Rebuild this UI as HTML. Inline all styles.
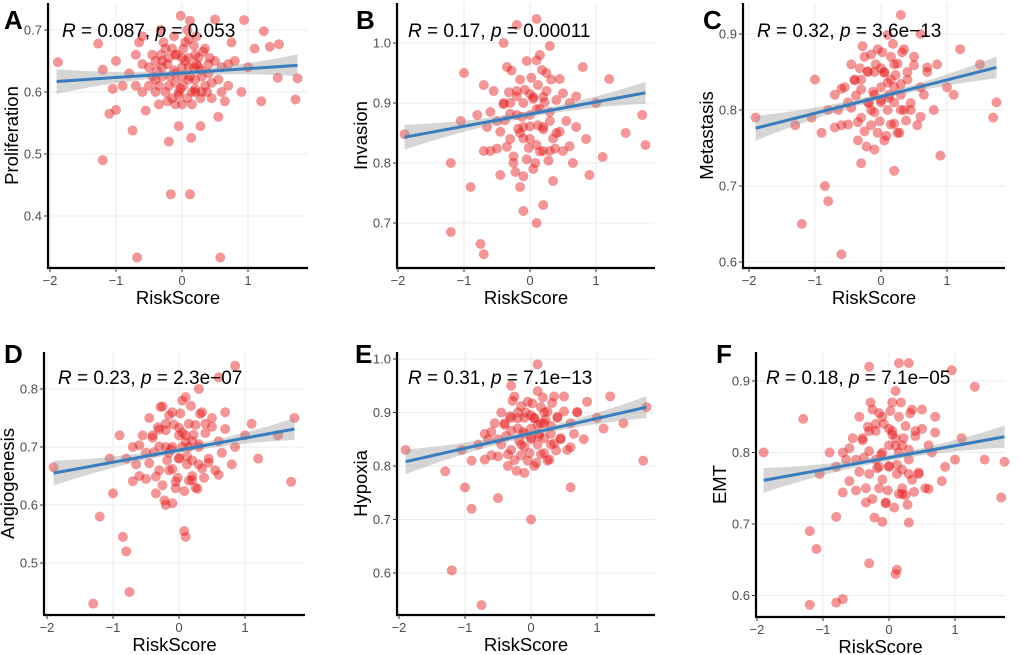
<!DOCTYPE html>
<html><head><meta charset="utf-8"><style>
body{margin:0;background:#fff;}
svg{display:block;font-family:"Liberation Sans",Arial,sans-serif;}
</style></head><body>
<svg id="chart" width="1020" height="655" viewBox="0 0 1020 655"></svg>
<script>
// ---- data ----
const panelLetters=["A","B","C","D","E","F"];
const yTitles=["Proliferation","Invasion","Metastasis","Angiogenesis","Hypoxia","EMT"];
const rValues=["0.087","0.17","0.32","0.23","0.31","0.18"];
const pValues=["0.053","0.00011","3.6e\u221213","2.3e\u221207","7.1e\u221213","7.1e\u221205"];
const xTicks=[-2,-1,0,1];
const xTickLabels=["\u22122","\u22121","0","1"];
const yTicksA=[0.4,0.5,0.6,0.7];
const yTicksB=[0.7,0.8,0.9,1.0];
const yTicksC=[0.6,0.7,0.8,0.9];
const yTicksD=[0.5,0.6,0.7,0.8];
const yTicksE=[0.6,0.7,0.8,0.9,1.0];
const yTicksF=[0.6,0.7,0.8,0.9];
const fitA=[[-1.9,0.617],[1.75,0.643]];
const fitB=[[-1.9,0.843],[1.75,0.917]];
const fitC=[[-1.9,0.776],[1.75,0.856]];
const fitD=[[-1.9,0.655],[1.75,0.731]];
const fitE=[[-1.9,0.808],[1.75,0.91]];
const fitF=[[-1.9,0.761],[1.75,0.822]];
const ptsA=[[-1.88,.648],[-1.2,.49],[-0.17,.435],[0.12,.435],[-0.68,.333],[0.58,.333],[1.72,.588],[1.75,.622],[0.94,.716],[1.24,.698],[-1.27,.678],[-1.2,.636],[-1.1,.565],[-1.0,.571],[-0.75,.538],[-0.2,.52],[0.14,.526],[-0.05,.545],[0.28,.545],[0.55,.56],[1.2,.585],[1.45,.623],[1.47,.677],[1.33,.673],[0.75,.68],[0.5,.717],[0.12,.715],[-0.02,.723],[-0.5,.64],[-0.4,.62],[-0.3,.65],[-0.2,.61],[-0.1,.63],[0,.64],[0.1,.62],[0.2,.66],[0.3,.6],[0.4,.63],[-0.6,.6],[-0.7,.66],[0.6,.64],[0.7,.61],[-0.25,.67],[0.05,.68],[-0.15,.59],[0.15,.58],[0.25,.64],[-0.35,.58],[-0.05,.6],[0.35,.67],[-0.45,.66],[0.45,.59],[-0.8,.63],[0.8,.65],[-0.9,.61],[0.9,.6],[-0.55,.57],[0.55,.62],[0.0,.58],[-0.1,.66],[0.1,.655],[0.2,.605],[-0.3,.625],[0.3,.625],[-0.65,.68],[0.65,.585],[1.0,.64],[-1.0,.65],[0.02,.61],[-0.22,.645],[0.18,.64],[-0.4,.6],[0.42,.655],[1.1,.67],[-1.05,.605],[-0.12,.69],[0.08,.7],[-0.32,.7],[0.22,.69],[-0.6,.69]];
const ptsB=[[-1.9,.848],[-1.2,.685],[-0.75,.665],[-0.7,.648],[0.1,.7],[-0.1,.72],[0.2,.73],[0.3,.995],[0.1,1.04],[-0.2,1.03],[-0.4,1.0],[1.7,.88],[1.75,.83],[1.45,.85],[1.2,.94],[-1.0,.95],[-1.2,.8],[-0.9,.76],[0.8,.96],[0.9,.78],[-0.5,.87],[-0.4,.9],[-0.3,.84],[-0.2,.92],[-0.1,.86],[0,.88],[0.1,.83],[0.2,.91],[0.3,.87],[0.4,.85],[-0.6,.82],[0.6,.9],[-0.7,.93],[0.7,.86],[-0.25,.8],[0.25,.95],[-0.05,.97],[0.05,.79],[0.15,.89],[-0.15,.85],[0.45,.94],[-0.45,.78],[0.5,.82],[-0.8,.88],[1.0,.9],[-0.35,.96],[0.35,.77],[0,.84],[-0.1,.9],[0.12,.93],[-0.55,.92],[0.55,.87],[0.85,.84],[-1.05,.87],[1.1,.81],[-0.2,.88],[0.2,.86],[-0.3,.9],[0.3,.82],[0.05,.91],[-0.65,.86],[0.65,.8],[-0.15,.76],[0.15,.98]];
const ptsC=[[-1.9,.79],[-1.2,.65],[-0.8,.68],[-0.6,.61],[-0.85,.7],[0.3,.925],[1.7,.79],[1.75,.81],[1.5,.86],[1.2,.88],[-1.0,.84],[-1.3,.78],[0.9,.74],[-0.3,.73],[0.2,.72],[0.6,.9],[-0.5,.81],[-0.4,.84],[-0.3,.79],[-0.2,.85],[-0.1,.82],[0,.83],[0.1,.8],[0.2,.86],[0.3,.82],[0.4,.84],[-0.6,.78],[0.6,.83],[-0.7,.82],[0.7,.85],[-0.25,.87],[0.25,.77],[-0.05,.88],[0.05,.76],[0.15,.84],[-0.15,.8],[0.45,.8],[-0.45,.86],[0.5,.87],[-0.8,.8],[1.0,.83],[-0.35,.76],[0.35,.88],[0,.81],[-0.1,.85],[0.12,.82],[-0.55,.83],[0.55,.78],[0.85,.86],[-1.05,.79],[1.1,.82],[0.8,.8],[-0.9,.77],[-0.2,.81],[0.2,.83],[-0.3,.84],[0.3,.8],[0.05,.85],[-0.65,.8],[0.65,.82],[-0.15,.78],[0.15,.87]];
const ptsD=[[-1.9,.665],[-1.3,.43],[-0.75,.45],[-0.8,.52],[-0.85,.545],[0.1,.545],[0.08,.555],[0.85,.84],[0.6,.82],[1.7,.64],[1.75,.75],[1.5,.72],[-1.2,.58],[-1.0,.62],[1.2,.68],[0.3,.8],[-0.2,.6],[-0.5,.69],[-0.4,.72],[-0.3,.66],[-0.2,.74],[-0.1,.7],[0,.68],[0.1,.72],[0.2,.65],[0.3,.7],[0.4,.74],[-0.6,.65],[0.6,.71],[-0.7,.7],[0.7,.76],[-0.25,.77],[0.25,.63],[-0.05,.64],[0.05,.78],[0.15,.7],[-0.15,.69],[0.45,.68],[-0.45,.75],[0.5,.75],[-0.8,.68],[1.0,.72],[-0.35,.62],[0.35,.76],[0,.72],[-0.1,.76],[0.12,.67],[-0.55,.72],[0.55,.66],[0.85,.7],[-1.05,.68],[1.1,.74],[0.8,.67],[-0.9,.72],[-0.2,.7],[0.2,.71],[-0.3,.73],[0.3,.67],[0.05,.7],[-0.65,.67],[0.65,.69],[-0.15,.66],[0.15,.74]];
const ptsE=[[-1.9,.83],[-1.2,.605],[-0.75,.54],[-0.9,.72],[0,.7],[0.1,.99],[-0.3,.95],[1.75,.91],[1.7,.81],[1.4,.88],[1.2,.93],[-1.3,.79],[-1.0,.76],[0.6,.76],[-0.5,.74],[-0.5,.85],[-0.4,.88],[-0.3,.83],[-0.2,.9],[-0.1,.86],[0,.87],[0.1,.84],[0.2,.9],[0.3,.86],[0.4,.89],[-0.6,.82],[0.6,.88],[-0.7,.86],[0.7,.9],[-0.25,.93],[0.25,.81],[-0.05,.92],[0.05,.8],[0.15,.88],[-0.15,.84],[0.45,.85],[-0.45,.9],[0.5,.93],[-0.8,.84],[1.0,.89],[-0.35,.8],[0.35,.93],[0,.85],[-0.1,.89],[0.12,.86],[-0.55,.88],[0.55,.83],[0.85,.92],[-1.05,.83],[1.1,.87],[0.8,.85],[-0.9,.81],[-0.2,.87],[0.2,.88],[-0.3,.89],[0.3,.84],[0.05,.89],[-0.65,.85],[0.65,.86],[-0.15,.82],[0.15,.91]];
const ptsF=[[-1.9,.8],[-1.2,.587],[-0.8,.59],[-0.7,.595],[-0.3,.645],[0.1,.63],[0.12,.636],[-1.2,.69],[-1.1,.665],[-0.3,.92],[0.3,.925],[0.15,.925],[0.95,.915],[1.3,.892],[1.7,.737],[1.75,.787],[1.45,.79],[-1.3,.847],[0.3,.702],[-0.8,.71],[-0.5,.79],[-0.4,.82],[-0.3,.77],[-0.2,.84],[-0.1,.8],[0,.78],[0.1,.82],[0.2,.75],[0.3,.79],[0.4,.83],[-0.6,.76],[0.6,.81],[-0.7,.8],[0.7,.85],[-0.25,.86],[0.25,.74],[-0.05,.73],[0.05,.87],[0.15,.8],[-0.15,.78],[0.45,.77],[-0.45,.85],[0.5,.86],[-0.8,.78],[1.0,.79],[-0.35,.73],[0.35,.86],[0,.81],[-0.1,.85],[0.12,.77],[-0.55,.82],[0.55,.75],[0.85,.78],[-1.05,.77],[1.1,.82],[0.8,.76],[-0.9,.8],[-0.2,.79],[0.2,.81],[-0.3,.83],[0.3,.77],[0.05,.83],[-0.65,.79],[0.65,.8],[-0.15,.75],[0.15,.85]];
// dense central cluster (x shared, y per panel)
const coreX=[-0.3,-0.2,-0.1,0,0.1,0.2,0.3,-0.35,-0.15,0.05,0.15,0.25,-0.05,-0.25,0.35,-0.4,0.4,-0.12,0.08,0.18,-0.28,0.28,-0.08,0.12,-0.18,0.22,-0.45,0.45,-0.5,0.5,0.02,-0.02,-0.32,0.32,-0.22,0.38,-0.6,0.6,-0.7,0.7,0.1,-0.1,0,-0.38,0.2];
const coreYA=[.64,.655,.615,.625,.64,.62,.635,.61,.67,.65,.6,.655,.595,.6,.61,.65,.645,.635,.59,.675,.68,.59,.66,.625,.625,.645,.625,.615,.61,.65,.67,.605,.66,.665,.585,.6,.645,.6,.61,.645,.685,.58,.655,.635,.6];
const coreYB=[.882,.911,.841,.861,.89,.856,.885,.827,.939,.907,.819,.92,.806,.811,.841,.898,.905,.877,.80,.955,.954,.804,.922,.863,.857,.901,.852,.852,.824,.916,.942,.825,.918,.939,.785,.824,.885,.828,.82,.911,.971,.778,.915,.871,.82];
const coreYC=[.827,.851,.797,.813,.836,.81,.834,.784,.873,.849,.781,.861,.77,.772,.80,.839,.85,.824,.766,.887,.884,.77,.86,.816,.809,.846,.803,.809,.781,.859,.876,.785,.855,.876,.752,.786,.828,.791,.777,.856,.899,.748,.855,.819,.782];
const coreYD=[.701,.729,.662,.681,.709,.677,.705,.649,.755,.725,.642,.738,.629,.634,.663,.716,.724,.696,.624,.771,.769,.628,.739,.684,.677,.721,.672,.673,.645,.735,.758,.647,.734,.757,.608,.647,.703,.652,.641,.731,.786,.603,.733,.691,.643];
const coreYE=[.866,.889,.836,.853,.877,.852,.875,.822,.912,.889,.822,.902,.81,.811,.842,.877,.892,.864,.806,.928,.922,.812,.90,.856,.848,.887,.84,.852,.818,.902,.917,.824,.893,.918,.791,.829,.864,.835,.812,.901,.94,.787,.895,.856,.824];
const coreYF=[.802,.83,.762,.781,.809,.776,.804,.75,.855,.825,.742,.837,.729,.735,.762,.817,.823,.797,.723,.87,.87,.727,.84,.783,.778,.82,.773,.772,.747,.833,.858,.747,.836,.855,.709,.745,.806,.749,.744,.828,.886,.703,.833,.793,.742];

const allPts=[ptsA,ptsB,ptsC,ptsD,ptsE,ptsF];
const allCoreY=[coreYA,coreYB,coreYC,coreYD,coreYE,coreYF];
const allFits=[fitA,fitB,fitC,fitD,fitE,fitF];
const allYTicks=[yTicksA,yTicksB,yTicksC,yTicksD,yTicksE,yTicksF];
const layout=[
 {l:48,r:308,t:3,b:268,x0:182,xs:66,yr:0.7,yp:30,ys:620,lx:4,ly:29,tx:62,ty:37},
 {l:397,r:655,t:3,b:268,x0:530,xs:66,yr:1.0,yp:43,ys:600,lx:356,ly:29,tx:408,ty:37},
 {l:743,r:1005,t:3,b:268,x0:881,xs:66,yr:0.9,yp:34,ys:760,lx:703,ly:29,tx:757,ty:37},
 {l:44,r:305,t:352,b:615,x0:179,xs:66,yr:0.8,yp:389,ys:580,lx:4,ly:363,tx:58,ty:384},
 {l:397,r:655,t:352,b:615,x0:531,xs:66,yr:1.0,yp:359,ys:535,lx:355,ly:363,tx:408,ty:384},
 {l:756,r:1005,t:352,b:617,x0:889,xs:66,yr:0.9,yp:381,ys:715,lx:716,ly:363,tx:766,ty:384}
];
const NS="http://www.w3.org/2000/svg";
const svg=document.getElementById('chart');
function mk(tag,attrs,parent){const e=document.createElementNS(NS,tag);for(const k in attrs)e.setAttribute(k,attrs[k]);(parent||svg).appendChild(e);return e;}

layout.forEach((L,i)=>{
  const g=mk('g',{});
  
  
  const X=v=>L.x0+v*L.xs;
  const Y=v=>L.yp+(L.yr-v)*L.ys;
  xTicks.forEach(t=>{
    const gl=mk('line',{x1:X(t),x2:X(t),y1:L.t,y2:L.b,stroke:'#ebebeb','stroke-width':1},g);
    
    
  });
  allYTicks[i].forEach(t=>{
    const gl=mk('line',{x1:L.l,x2:L.r,y1:Y(t),y2:Y(t),stroke:'#ebebeb','stroke-width':1},g);
    
    
  });
  const pts=allPts[i].concat(coreX.map((x,k)=>[x,allCoreY[i][k]]));
  pts.forEach(p=>{
    const c=mk('circle',{cx:X(p[0]),cy:Y(p[1]),r:5,fill:'#e41a1c','fill-opacity':0.46},g);
    
    
  });
  const f=allFits[i];
  const up=[],dn=[];
  for(let k=0;k<=20;k++){
    const xv=f[0][0]+(f[1][0]-f[0][0])*k/20;
    const yv=f[0][1]+(f[1][1]-f[0][1])*(xv-f[0][0])/(f[1][0]-f[0][0]);
    const h=3+2.6*xv*xv;
    up.push(X(xv)+','+(Y(yv)-h));dn.unshift(X(xv)+','+(Y(yv)+h));
  }
  const band=mk('polygon',{points:up.concat(dn).join(' '),fill:'#999','fill-opacity':0.4},g);
  
  
  const fl=mk('line',{x1:X(f[0][0]),y1:Y(f[0][1]),x2:X(f[1][0]),y2:Y(f[1][1]),stroke:'#3a7dbf','stroke-width':3},g);
  
  
  const ya=mk('line',{x1:L.l,x2:L.l,y1:L.t,y2:L.b+1,stroke:'#000','stroke-width':2.2},g);
  
  
  const xa=mk('line',{x1:L.l-1,x2:L.r,y1:L.b,y2:L.b,stroke:'#000','stroke-width':2.2},g);
  
  
  xTicks.forEach((t,j)=>{
    mk('line',{x1:X(t),x2:X(t),y1:L.b,y2:L.b+4,stroke:'#333','stroke-width':1},g);
    const tl=mk('text',{x:X(t),y:L.b+17,'text-anchor':'middle','font-size':13,fill:'#4d4d4d'},g);
    tl.textContent=xTickLabels[j];
    
    
  });
  allYTicks[i].forEach(t=>{
    mk('line',{x1:L.l-4,x2:L.l,y1:Y(t),y2:Y(t),stroke:'#333','stroke-width':1},g);
    const tl=mk('text',{x:L.l-6,y:Y(t)+4.5,'text-anchor':'end','font-size':13,fill:'#4d4d4d'},g);
    tl.textContent=t.toFixed(1);
    
    
  });
  const xt=mk('text',{x:(L.l+L.r)/2,y:L.b+36,'text-anchor':'middle','font-size':18.5,fill:'#000'},g);
  xt.textContent='RiskScore';
  
  
  const yc=(L.t+L.b)/2;
  const ytx=L.l-30;
  const yt=mk('text',{x:ytx,y:yc,'text-anchor':'middle','font-size':18.5,fill:'#000',transform:`rotate(-90 ${ytx} ${yc})`},g);
  yt.textContent=yTitles[i];
  
  
  const lt=mk('text',{x:L.lx,y:L.ly,'font-size':26,'font-weight':'bold',fill:'#000'},g);
  lt.textContent=panelLetters[i];
  
  
  const st=mk('text',{x:L.tx,y:L.ty,'font-size':19,fill:'#000'},g);
  
  
  st.innerHTML=`<tspan font-style="italic">R</tspan> = ${rValues[i]}, <tspan font-style="italic">p</tspan> = ${pValues[i]}`;
});
</script>
</body></html>
